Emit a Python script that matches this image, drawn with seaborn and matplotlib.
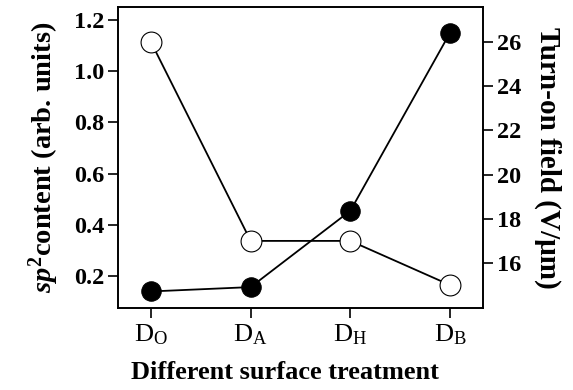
import matplotlib
matplotlib.use("Agg")
import matplotlib.pyplot as plt
import seaborn as sns
import pandas as pd

categories = [r"$\mathrm{D_O}$", r"$\mathrm{D_A}$", r"$\mathrm{D_H}$", r"$\mathrm{D_B}$"]
sp2_content = [0.14, 0.157, 0.455, 1.15]
turn_on_field = [26.0, 17.0, 17.0, 15.0]
left_ticks = [0.2, 0.4, 0.6, 0.8, 1.0, 1.2]
right_ticks = [16, 18, 20, 22, 24, 26]

sns.set_style("ticks")
plt.rcParams["font.family"] = ["Liberation Serif", "DejaVu Serif"]
plt.rcParams["mathtext.fontset"] = "custom"
plt.rcParams["mathtext.rm"] = "Liberation Serif"
plt.rcParams["mathtext.it"] = "Liberation Serif:italic:bold"
plt.rcParams["mathtext.bf"] = "Liberation Serif:bold"
for k in ("text.color", "axes.labelcolor", "xtick.color", "ytick.color", "axes.edgecolor"):
    plt.rcParams[k] = "black"

df = pd.DataFrame({"x": range(len(categories)), "sp2": sp2_content, "field": turn_on_field})

fig = plt.figure(figsize=(5.73, 3.90), dpi=100)
ax = fig.add_axes([0.206, 0.21, 0.637, 0.772])
ax2 = ax.twinx()

sns.lineplot(data=df, x="x", y="field", ax=ax2, color="black", linewidth=1.3,
             marker="o", markersize=15, markerfacecolor="white",
             markeredgecolor="black", markeredgewidth=0.8)
sns.lineplot(data=df, x="x", y="sp2", ax=ax, color="black", linewidth=1.3,
             marker="o", markersize=14, markerfacecolor="black",
             markeredgecolor="black")
ax.set_zorder(ax2.get_zorder() + 1)
ax.patch.set_visible(False)

ax.set_xlim(-0.33, 3.33)
ax.set_ylim(0.075, 1.25)
ax2.set_ylim(13.96, 27.58)
ax.set_xticks(range(len(categories)))
ax.set_xticklabels(categories, fontsize=19)
ax.set_yticks(left_ticks)
ax.set_yticklabels([f"{v:.1f}" for v in left_ticks], fontsize=17.5, fontweight="bold")
ax2.set_yticks(right_ticks)
ax2.set_yticklabels([str(v) for v in right_ticks], fontsize=17.5, fontweight="bold")

for a in (ax, ax2):
    for s in a.spines.values():
        s.set_visible(True)
        s.set_linewidth(1.2)
    a.tick_params(direction="out", length=7, width=1.2, pad=3)

ax.set_xlabel("Different surface treatment", fontsize=19, fontweight="bold", labelpad=12)
ax.xaxis.set_label_coords(0.457, -0.175, transform=ax.transAxes)
ax.xaxis.label.set_va("top")
ax.set_ylabel(r"$sp^{\mathbf{2}}$content (arb. units)", fontsize=20.5, fontweight="bold", labelpad=9)
ax2.set_ylabel("Turn-on field (V/μm)", fontsize=21, fontweight="bold", rotation=270, labelpad=29)

fig.savefig("out.png", dpi=100)
